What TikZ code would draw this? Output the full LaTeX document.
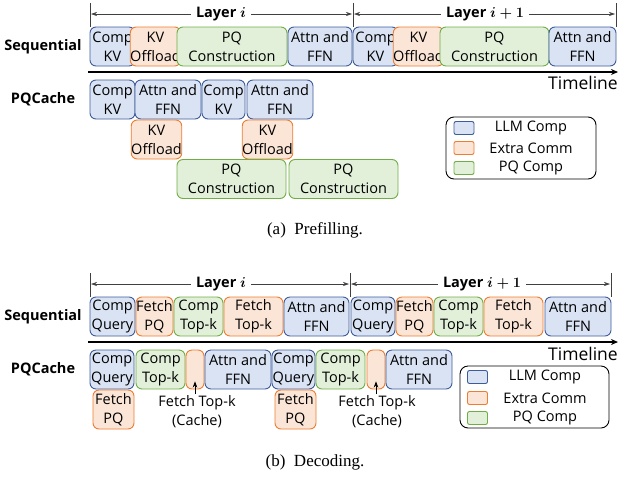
\documentclass[tikz,border=0pt]{standalone}
\usepackage{fontspec}
\usepackage{amsmath}
\setsansfont{Open Sans}
\newfontfamily\capfont{Liberation Serif}
\usetikzlibrary{arrows.meta}

\definecolor{llmfill}{HTML}{DAE3F3}
\definecolor{llmdraw}{HTML}{3E5C9A}
\definecolor{commfill}{HTML}{FBE5D6}
\definecolor{commdraw}{HTML}{ED7D31}
\definecolor{pqfill}{HTML}{E2F0D9}
\definecolor{pqdraw}{HTML}{70AD47}

\begin{document}
\begin{tikzpicture}[x=1pt, y=-1pt]
            \tikzstyle{blk} = [rounded corners=6pt, inner sep=0pt, minimum height=39pt, line width=0.9pt, align=center, font=\sffamily\fontsize{14.5}{19}\selectfont]
            \tikzstyle{llm} = [blk, fill=llmfill, draw=llmdraw]
            \tikzstyle{comm} = [blk, fill=commfill, draw=commdraw]
            \tikzstyle{pq} = [blk, fill=pqfill, draw=pqdraw]
            \tikzstyle{swatch} = [rounded corners=2pt, minimum width=20pt, minimum height=13pt, inner sep=0pt, line width=0.9pt]
            \tikzstyle{rowlabel} = [font=\sffamily\bfseries\fontsize{14.5}{17}\selectfont]
            \tikzstyle{layerlabel} = [font=\sffamily\bfseries\boldmath\fontsize{14.5}{17}\selectfont, inner sep=5pt]
            \tikzstyle{legtext} = [font=\sffamily\fontsize{14.5}{17}\selectfont]
            \tikzstyle{bracket} = [black!75, line width=0.6pt]
            \tikzstyle{timeline} = [line width=1.6pt, -{Stealth[length=7pt, width=6pt]}]
            \tikzstyle{caption} = [font=\capfont\fontsize{17}{20}\selectfont]

            \useasboundingbox (0, 0) rectangle (618, 477);

            % (a) prefilling
            \coordinate (atop0) at (90, 3);
            \coordinate (atop1) at (353, 3);
            \coordinate (atop2) at (616, 3);
            \coordinate (abot0) at (90, 27);
            \coordinate (abot1) at (353, 27);
            \coordinate (abot2) at (616, 27);
            \draw[bracket] (atop0) -- (abot0);
            \draw[bracket] (atop1) -- (abot1);
            \draw[bracket] (atop2) -- (abot2);
            \node[layerlabel] (alayer1) at (221, 14) {Layer $i$};
            \node[layerlabel] (alayer2) at (485, 14) {Layer $i+1$};
            \coordinate (aarr0) at (91, 14);
            \coordinate (aarr1) at (352, 14);
            \coordinate (aarr2) at (354, 14);
            \coordinate (aarr3) at (615, 14);
            \draw[bracket, -{Stealth[length=6pt, width=4pt]}] (alayer1.west) -- (aarr0);
            \draw[bracket, -{Stealth[length=6pt, width=4pt]}] (alayer1.east) -- (aarr1);
            \draw[bracket, -{Stealth[length=6pt, width=4pt]}] (alayer2.west) -- (aarr2);
            \draw[bracket, -{Stealth[length=6pt, width=4pt]}] (alayer2.east) -- (aarr3);

            \node[rowlabel] (aseq) at (43, 47) {Sequential};
            \node[rowlabel] (apqc) at (43, 99) {PQCache};

            \node[llm, minimum width=45pt] (asc1) at (112.5, 46.5) {Comp\\KV};
            \node[comm, minimum width=41pt] (aso1) at (155.5, 46.5) {KV\\Offload};
            \node[pq, minimum width=110pt] (asp1) at (232, 46.5) {PQ\\Construction};
            \node[llm, minimum width=64pt] (asa1) at (320, 46.5) {Attn and\\FFN};
            \node[llm, minimum width=45pt] (asc2) at (375.5, 46.5) {Comp\\KV};
            \node[comm, minimum width=41pt] (aso2) at (418.5, 46.5) {KV\\Offload};
            \node[pq, minimum width=109pt] (asp2) at (494.5, 46.5) {PQ\\Construction};
            \node[llm, minimum width=67pt] (asa2) at (582.5, 46.5) {Attn and\\FFN};

            \coordinate (atl0) at (88, 72);
            \coordinate (atl1) at (618, 72);
            \draw[timeline] (atl0) -- (atl1);
            \node[legtext, font=\sffamily\fontsize{17.5}{20}\selectfont, anchor=east, inner sep=0pt] (atime) at (618, 83) {Timeline};

            \node[llm, minimum width=45pt] (apc1) at (112.5, 99.5) {Comp\\KV};
            \node[llm, minimum width=66pt] (apa1) at (168, 99.5) {Attn and\\FFN};
            \node[llm, minimum width=43pt] (apc2) at (223.5, 99.5) {Comp\\KV};
            \node[llm, minimum width=66pt] (apa2) at (280, 99.5) {Attn and\\FFN};
            \node[comm, minimum width=41pt] (apo1) at (156.5, 139.5) {KV\\Offload};
            \node[comm, minimum width=41pt] (apo2) at (267.5, 139.5) {KV\\Offload};
            \node[pq, minimum width=109pt] (app1) at (231.5, 179) {PQ\\Construction};
            \node[pq, minimum width=109pt] (app2) at (343.5, 179) {PQ\\Construction};

            \draw[rounded corners=8pt, line width=0.9pt] (446, 117) rectangle (596, 179);
            \node[swatch, fill=llmfill, draw=llmdraw] (aleg1) at (464, 128) {};
            \node[swatch, fill=commfill, draw=commdraw] (aleg2) at (464, 148) {};
            \node[swatch, fill=pqfill, draw=pqdraw] (aleg3) at (464, 168) {};
            \node[legtext] (aleg1t) at (531, 128) {LLM Comp};
            \node[legtext] (aleg2t) at (531, 148) {Extra Comm};
            \node[legtext] (aleg3t) at (531, 168) {PQ Comp};

            \node[caption] (acap) at (315, 230) {(a)\ \ Prefilling.};

            % (b) decoding
            \coordinate (btop0) at (90, 273);
            \coordinate (btop1) at (350, 273);
            \coordinate (btop2) at (611, 273);
            \coordinate (bbot0) at (90, 297);
            \coordinate (bbot1) at (350, 297);
            \coordinate (bbot2) at (611, 297);
            \draw[bracket] (btop0) -- (bbot0);
            \draw[bracket] (btop1) -- (bbot1);
            \draw[bracket] (btop2) -- (bbot2);
            \node[layerlabel] (blayer1) at (221, 284) {Layer $i$};
            \node[layerlabel] (blayer2) at (482, 284) {Layer $i+1$};
            \coordinate (barr0) at (91, 284);
            \coordinate (barr1) at (349, 284);
            \coordinate (barr2) at (351, 284);
            \coordinate (barr3) at (610, 284);
            \draw[bracket, -{Stealth[length=6pt, width=4pt]}] (blayer1.west) -- (barr0);
            \draw[bracket, -{Stealth[length=6pt, width=4pt]}] (blayer1.east) -- (barr1);
            \draw[bracket, -{Stealth[length=6pt, width=4pt]}] (blayer2.west) -- (barr2);
            \draw[bracket, -{Stealth[length=6pt, width=4pt]}] (blayer2.east) -- (barr3);

            \node[rowlabel] (bseq) at (43, 317) {Sequential};
            \node[rowlabel] (bpqc) at (43, 369) {PQCache};

            \node[llm, minimum width=45pt] (bsq1) at (112.5, 316.5) {Comp\\Query};
            \node[comm, minimum width=37pt] (bsf1) at (154.5, 316.5) {Fetch\\PQ};
            \node[pq, minimum width=49pt] (bst1) at (198.5, 316.5) {Comp\\Top-k};
            \node[comm, minimum width=59pt] (bsk1) at (253.5, 316.5) {Fetch\\Top-k};
            \node[llm, minimum width=65pt] (bsa1) at (316.5, 316.5) {Attn and\\FFN};
            \node[llm, minimum width=44pt] (bsq2) at (373, 316.5) {Comp\\Query};
            \node[comm, minimum width=37pt] (bsf2) at (414.5, 316.5) {Fetch\\PQ};
            \node[pq, minimum width=49pt] (bst2) at (458.5, 316.5) {Comp\\Top-k};
            \node[comm, minimum width=59pt] (bsk2) at (513.5, 316.5) {Fetch\\Top-k};
            \node[llm, minimum width=66pt] (bsa2) at (578, 316.5) {Attn and\\FFN};

            \coordinate (btl0) at (88, 342);
            \coordinate (btl1) at (618, 342);
            \draw[timeline] (btl0) -- (btl1);
            \node[legtext, font=\sffamily\fontsize{17.5}{20}\selectfont, anchor=east, inner sep=0pt] (btime) at (618, 354) {Timeline};

            \node[llm, minimum width=44pt] (bpq1) at (112, 369.5) {Comp\\Query};
            \node[pq, minimum width=49pt] (bpt1) at (160.5, 369.5) {Comp\\Top-k};
            \node[comm, minimum width=18pt] (bpk1) at (195, 369.5) {};
            \node[llm, minimum width=66pt] (bpa1) at (238, 369.5) {Attn and\\FFN};
            \node[llm, minimum width=43pt] (bpq2) at (293.5, 369.5) {Comp\\Query};
            \node[pq, minimum width=49pt] (bpt2) at (340.5, 369.5) {Comp\\Top-k};
            \node[comm, minimum width=18pt] (bpk2) at (376, 369.5) {};
            \node[llm, minimum width=66pt] (bpa2) at (419, 369.5) {Attn and\\FFN};
            \node[comm, minimum width=41pt] (bpf1) at (113.5, 409.5) {Fetch\\PQ};
            \node[comm, minimum width=41pt] (bpf2) at (295.5, 409.5) {Fetch\\PQ};

            \node[legtext, align=center, font=\sffamily\fontsize{14.5}{19}\selectfont, inner sep=1pt] (bcache1) at (197, 411.5) {Fetch Top-k\\(Cache)};
            \node[legtext, align=center, font=\sffamily\fontsize{14.5}{19}\selectfont, inner sep=1pt] (bcache2) at (377, 411.5) {Fetch Top-k\\(Cache)};
            \draw[line width=0.6pt, -{Stealth[length=6pt, width=4.5pt]}] (bpk1.south |- bcache1.north) -- ([yshift=8pt]bpk1.south);
            \draw[line width=0.6pt, -{Stealth[length=6pt, width=4.5pt]}] (bpk2.south |- bcache2.north) -- ([yshift=8pt]bpk2.south);

            \draw[rounded corners=8pt, line width=0.9pt] (460, 366) rectangle (609, 428);
            \node[swatch, fill=llmfill, draw=llmdraw] (bleg1) at (477.5, 377) {};
            \node[swatch, fill=commfill, draw=commdraw] (bleg2) at (477.5, 398) {};
            \node[swatch, fill=pqfill, draw=pqdraw] (bleg3) at (477.5, 418) {};
            \node[legtext] (bleg1t) at (545, 377) {LLM Comp};
            \node[legtext] (bleg2t) at (545, 398) {Extra Comm};
            \node[legtext] (bleg3t) at (545, 418) {PQ Comp};

            \node[caption] (bcap) at (315, 462) {(b)\ \ Decoding.};
        \end{tikzpicture}
\end{document}
